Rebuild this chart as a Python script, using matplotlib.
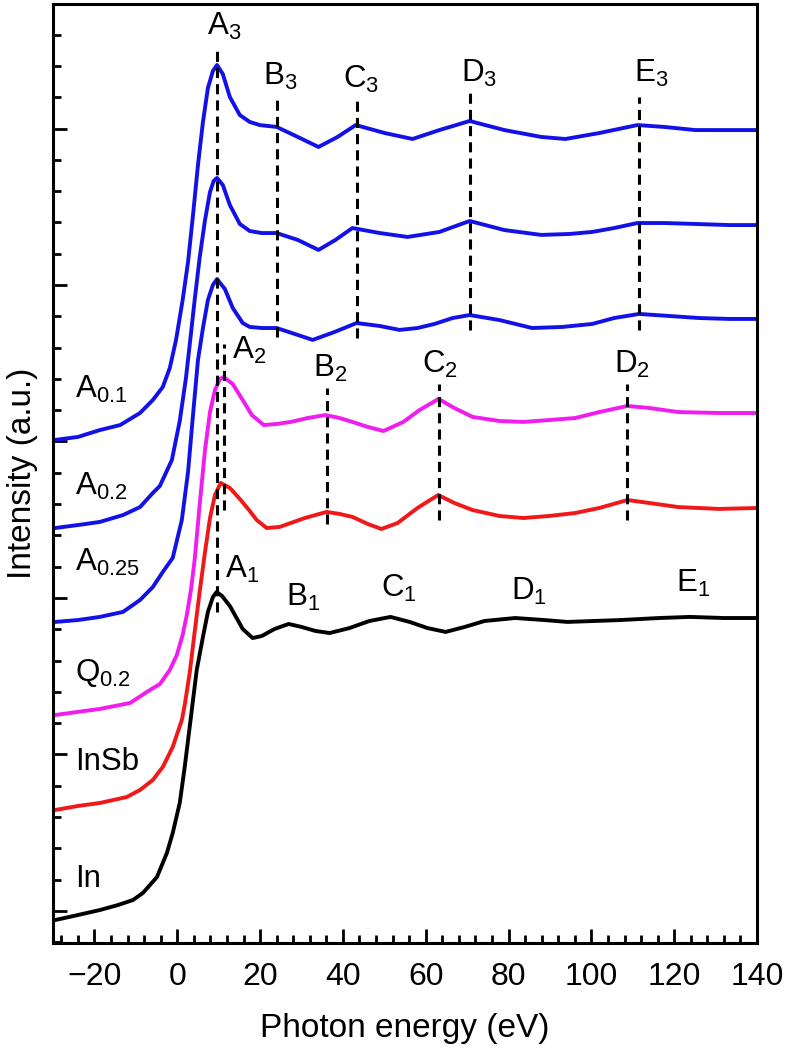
import matplotlib
matplotlib.use("Agg")
import matplotlib.pyplot as plt
from matplotlib.ticker import MultipleLocator, NullFormatter

plt.rcParams['font.family'] = ['Liberation Sans', 'DejaVu Sans']
plt.rcParams['mathtext.fontset'] = 'custom'
plt.rcParams['mathtext.rm'] = 'Liberation Sans'
plt.rcParams['mathtext.it'] = 'Liberation Sans:italic'

# spectra (photon energy in eV, stacked intensity in a.u.)
in_e = [-29.5, -24.0, -18.7, -14.3, -10.7, -8.3, -4.9, -2.5, -1.1, 0.6, 1.8, 3.0, 3.8, 4.7,
        6.2, 7.4, 8.6, 9.5, 10.8, 12.7, 15.8, 18.2, 20.4, 23.5, 26.9, 30.0, 33.4, 36.8, 41.6,
        46.4, 51.5, 56.1, 60.4, 64.8, 69.4, 74.2, 81.6, 88.6, 94.2, 100.7, 107.0, 116.4,
        123.8, 132.0, 139.8]
in_i = [-0.058, -0.026, 0.006, 0.038, 0.070, 0.115, 0.217, 0.371, 0.498, 0.690, 0.920, 1.176,
        1.348, 1.540, 1.751, 1.911, 2.006, 2.038, 2.013, 1.949, 1.802, 1.744, 1.757, 1.802,
        1.834, 1.815, 1.789, 1.776, 1.808, 1.853, 1.879, 1.847, 1.808, 1.783, 1.815, 1.853,
        1.872, 1.859, 1.847, 1.853, 1.859, 1.872, 1.879, 1.872, 1.872]

insb_e = [-29.5, -24.0, -18.7, -12.2, -9.0, -5.9, -3.5, -1.1, 1.1, 1.8, 3.0, 4.2, 5.4, 6.7,
          7.9, 9.1, 10.5, 12.7, 15.1, 17.5, 19.2, 21.6, 24.7, 27.4, 30.8, 36.1, 39.2, 42.3,
          46.0, 49.3, 53.2, 58.0, 63.0, 66.9, 71.3, 77.8, 83.6, 89.8, 96.1, 101.9, 108.7,
          114.0, 121.0, 130.8, 140.0]
insb_i = [0.645, 0.671, 0.690, 0.728, 0.773, 0.837, 0.920, 1.048, 1.220, 1.316, 1.521, 1.783,
          2.038, 2.294, 2.511, 2.658, 2.735, 2.703, 2.633, 2.556, 2.498, 2.447, 2.454, 2.479,
          2.511, 2.550, 2.537, 2.518, 2.473, 2.441, 2.479, 2.575, 2.658, 2.607, 2.562, 2.524,
          2.511, 2.524, 2.543, 2.575, 2.626, 2.607, 2.581, 2.569, 2.575]

q02_e = [-29.5, -24.0, -18.7, -11.4, -6.6, -4.2, -1.8, -0.1, 1.3, 2.3, 3.3, 4.2, 5.4, 6.7,
         7.9, 9.1, 10.3, 11.2, 13.4, 15.8, 18.0, 20.9, 24.0, 27.4, 31.5, 35.8, 39.2, 42.3,
         46.0, 49.8, 54.6, 58.5, 63.1, 66.9, 71.3, 77.8, 83.6, 89.8, 96.1, 101.9, 108.7,
         114.0, 121.0, 130.8, 140.0]
q02_i = [1.252, 1.272, 1.291, 1.329, 1.412, 1.450, 1.540, 1.636, 1.764, 1.891, 2.051, 2.243,
         2.594, 2.946, 3.188, 3.329, 3.399, 3.412, 3.367, 3.265, 3.169, 3.105, 3.112, 3.125,
         3.150, 3.169, 3.150, 3.125, 3.093, 3.067, 3.125, 3.201, 3.272, 3.214, 3.157, 3.131,
         3.125, 3.137, 3.150, 3.188, 3.227, 3.214, 3.188, 3.182, 3.182]

a025_e = [-29.5, -24.0, -18.7, -13.1, -9.0, -5.9, -3.5, -1.1, 1.1, 2.6, 3.8, 5.0, 6.2, 7.4,
          8.6, 9.6, 11.5, 13.4, 15.8, 17.5, 20.4, 24.0, 28.4, 32.7, 38.0, 43.3, 48.9, 53.7,
          58.0, 62.1, 66.5, 70.6, 77.8, 85.7, 93.0, 100.2, 105.5, 111.5, 118.8, 126.0,
          133.3, 139.8]
a025_i = [1.847, 1.859, 1.879, 1.911, 1.987, 2.070, 2.166, 2.256, 2.498, 2.805, 3.169, 3.521,
          3.725, 3.904, 4.000, 4.038, 3.974, 3.853, 3.757, 3.732, 3.725, 3.725, 3.687, 3.649,
          3.700, 3.757, 3.738, 3.713, 3.725, 3.751, 3.789, 3.808, 3.776, 3.725, 3.732, 3.751,
          3.789, 3.815, 3.802, 3.789, 3.783, 3.783]

a02_e = [-29.5, -24.0, -18.7, -13.1, -9.0, -5.9, -4.2, -1.3, 0.6, 2.1, 3.0, 4.2, 5.4, 6.7,
         7.9, 8.8, 9.6, 11.0, 12.7, 15.1, 17.5, 20.4, 24.0, 29.1, 34.1, 38.2, 42.3, 48.9,
         55.6, 63.3, 70.6, 79.0, 87.9, 94.7, 100.2, 105.5, 111.1, 117.6, 125.1, 133.3, 139.8]
a02_i = [2.447, 2.466, 2.486, 2.530, 2.581, 2.671, 2.716, 2.882, 3.131, 3.406, 3.617, 3.904,
         4.173, 4.415, 4.594, 4.665, 4.684, 4.639, 4.511, 4.390, 4.345, 4.332, 4.332, 4.288,
         4.224, 4.288, 4.364, 4.332, 4.307, 4.339, 4.409, 4.351, 4.320, 4.326, 4.339, 4.364,
         4.396, 4.396, 4.390, 4.383, 4.383]

a01_e = [-29.5, -24.0, -18.7, -13.8, -9.0, -5.9, -3.5, -1.8, -0.3, 1.3, 2.6, 3.8, 5.0, 6.2,
         7.4, 8.6, 9.6, 11.0, 12.7, 15.1, 17.5, 19.9, 24.0, 29.1, 34.1, 38.7, 43.1, 50.1,
         56.8, 63.3, 70.6, 79.0, 87.9, 93.7, 101.9, 111.1, 117.6, 125.1, 133.3, 139.8]
a01_i = [3.010, 3.029, 3.073, 3.105, 3.182, 3.265, 3.348, 3.470, 3.649, 3.904, 4.147, 4.447,
         4.767, 5.042, 5.259, 5.367, 5.406, 5.348, 5.201, 5.086, 5.042, 5.022, 5.010, 4.946,
         4.882, 4.946, 5.022, 4.971, 4.933, 4.990, 5.048, 4.990, 4.946, 4.933, 4.971, 5.022,
         5.010, 4.990, 4.990, 4.990]

series = [
    (in_e, in_i, 'black'),
    (insb_e, insb_i, '#f01818'),
    (q02_e, q02_i, '#f01cf0'),
    (a025_e, a025_i, '#1212e8'),
    (a02_e, a02_i, '#1212e8'),
    (a01_e, a01_i, '#1212e8'),
]

# dashed feature markers: energy, lower and upper intensity
mark_e = [9.6, 24.0, 43.3, 70.6, 111.5, 11.2, 36.1, 63.1, 108.7]
mark_lo = [1.91, 3.67, 3.66, 3.71, 3.71, 2.56, 2.47, 2.50, 2.50]
mark_hi = [5.52, 5.18, 5.18, 5.23, 5.20, 3.62, 3.34, 3.37, 3.37]

# feature labels
feat_text = ['A$_3$', 'B$_3$', 'C$_3$', 'D$_3$', 'E$_3$',
             'A$_2$', 'B$_2$', 'C$_2$', 'D$_2$',
             'A$_1$', 'B$_1$', 'C$_1$', 'D$_1$', 'E$_1$']
feat_e = [7.1, 20.6, 39.9, 68.6, 110.3, 13.2, 32.7, 59.0, 105.5, 11.5, 26.2, 49.1, 80.7, 120.5]
feat_i = [5.60, 5.28, 5.26, 5.30, 5.30, 3.53, 3.41, 3.44, 3.44, 2.13, 1.95, 2.01, 1.99, 2.04]

# sample names on the left
name_text = ['A$_{0.1}$', 'A$_{0.2}$', 'A$_{0.25}$', 'Q$_{0.2}$', 'InSb', 'In']
name_i = [3.28, 2.66, 2.17, 1.47, 0.90, 0.15]
name_e = -24.7

fig = plt.figure(figsize=(7.88, 10.49), dpi=100)
ax = fig.add_axes([0.0673, 0.1010, 0.8934, 0.8951])

for e, y, c in series:
    ax.plot(e, y, color=c, lw=2.8, solid_joinstyle='round', solid_capstyle='round')

for e, lo, hi in zip(mark_e, mark_lo, mark_hi):
    ax.plot([e, e], [lo, hi], color='black', lw=2.2, dashes=(3.3, 2.0))

for t, e, y in zip(feat_text, feat_e, feat_i):
    ax.text(e, y, t, fontsize=22.5, ha='left', va='baseline')

for t, y in zip(name_text, name_i):
    ax.text(name_e, y, t, fontsize=22.5, ha='left', va='baseline')

ax.set_xlim(-30, 140)
ax.set_ylim(-0.205, 5.795)
ax.xaxis.set_major_locator(MultipleLocator(20))
ax.xaxis.set_minor_locator(MultipleLocator(4))
ax.yaxis.set_major_locator(MultipleLocator(1))
ax.yaxis.set_minor_locator(MultipleLocator(0.2))
ax.yaxis.set_major_formatter(NullFormatter())

ax.tick_params(which='both', direction='in', width=2, top=False, right=False)
ax.tick_params(which='major', length=10)
ax.tick_params(which='minor', length=6)
ax.tick_params(axis='x', labelsize=23, pad=14)

for s in ax.spines.values():
    s.set_linewidth(2.2)

ax.set_xlabel("Photon energy (eV)", fontsize=24)
ax.set_ylabel("Intensity (a.u.)", fontsize=24)
ax.xaxis.set_label_coords(0.499, -0.075)
ax.yaxis.set_label_coords(-0.022, 0.5)

fig.savefig("out.png", dpi=100)
